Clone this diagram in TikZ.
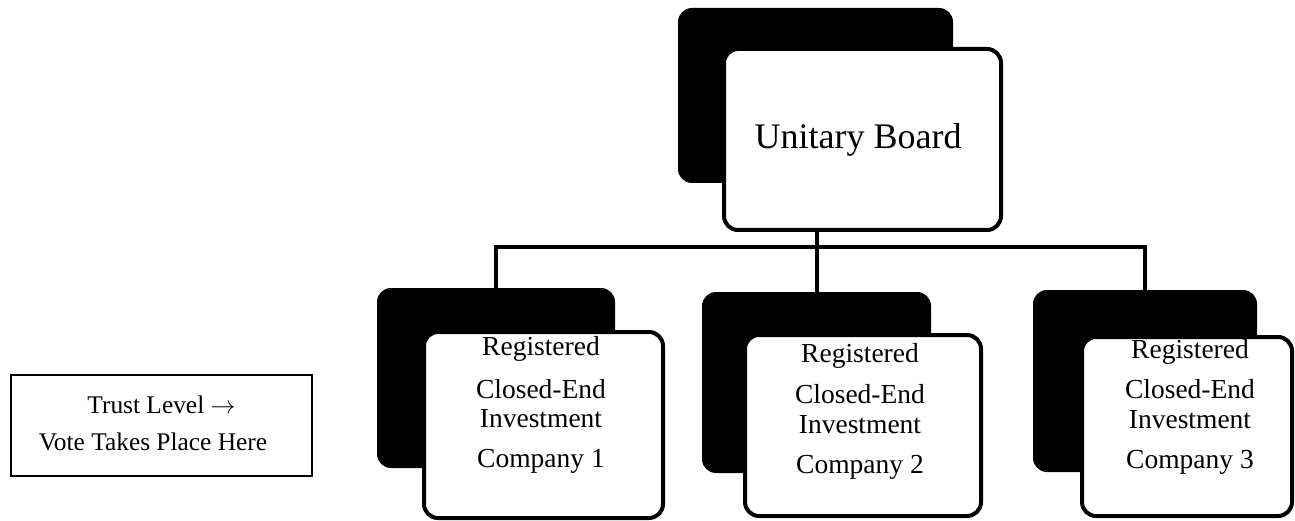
\documentclass[tikz,border=0pt]{standalone}
\usepackage{fontspec}
\setmainfont{Liberation Serif}
\begin{document}
\begin{tikzpicture}[x=1pt,y=-1pt,
  shadowbox/.style={fill=black, draw=none, rounded corners=14pt, inner sep=0pt},
  frontbox/.style={fill=white, draw=black, line width=4pt, rounded corners=14pt, inner sep=0pt},
  link/.style={line width=4pt, line cap=butt},
  boxtext/.style={anchor=base, inner sep=0pt, font=\fontsize{27.5}{30}\selectfont},
  notetext/.style={anchor=base, inner sep=0pt, font=\fontsize{25.4}{28}\selectfont}]
\useasboundingbox (0,0) rectangle (1295,521);

% board
\node[shadowbox, minimum width=275, minimum height=175] (bk) at (815.5,95.5) {};
\node[frontbox, minimum width=277, minimum height=181] (ub) at (862.5,139.5) {};
\node[inner sep=0pt, font=\fontsize{36}{40}\selectfont] (ubt) at (858,140) {Unitary Board};

% companies: shadow boxes
\node[shadowbox, minimum width=238, minimum height=180] (k1) at (496,378) {};
\node[shadowbox, minimum width=229, minimum height=181] (k2) at (816.5,382.5) {};
\node[shadowbox, minimum width=224, minimum height=182] (k3) at (1145,381) {};

% tree connectors
\coordinate (bus) at (815,247);
\draw[link] (ub.south -| k2.north) -- ([yshift=-5pt]k2.north);
\draw[link] ([yshift=-5pt]k1.north) -- (k1.north |- bus) -- (k3.north |- bus) -- ([yshift=-5pt]k3.north);

% companies: front boxes
\node[frontbox, minimum width=239, minimum height=186] (c1) at (543.5,425) {};
\node[frontbox, minimum width=236, minimum height=181] (c2) at (863,425.5) {};
\node[frontbox, minimum width=210, minimum height=179] (c3) at (1187,426.5) {};

\node[boxtext] (c1a) at (541,355) {Registered};
\node[boxtext] (c1b) at (541,398) {Closed-End};
\node[boxtext] (c1c) at (541,427) {Investment};
\node[boxtext] (c1d) at (541,467) {Company 1};

\node[boxtext] (c2a) at (860,362) {Registered};
\node[boxtext] (c2b) at (860,403) {Closed-End};
\node[boxtext] (c2c) at (860,433) {Investment};
\node[boxtext] (c2d) at (860,473) {Company 2};

\node[boxtext] (c3a) at (1190,358) {Registered};
\node[boxtext] (c3b) at (1190,398) {Closed-End};
\node[boxtext] (c3c) at (1190,428) {Investment};
\node[boxtext] (c3d) at (1190,468) {Company 3};

% level note
\node[draw=black, line width=2pt, minimum width=301, minimum height=101, inner sep=0pt] (note) at (161.5,425.5) {};
\node[notetext] (n1) at (161.5,413) {Trust Level $\rightarrow$};
\node[notetext] (n2) at (153,450) {Vote Takes Place Here};
\end{tikzpicture}
\end{document}
